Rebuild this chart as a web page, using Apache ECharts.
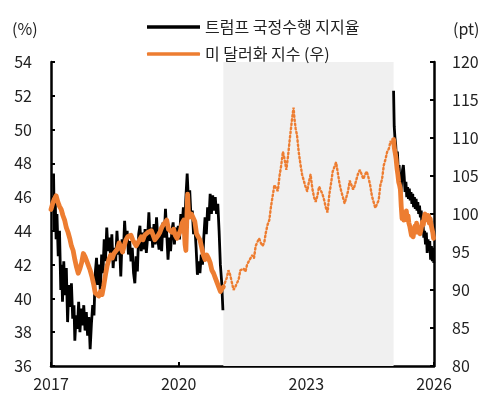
<!DOCTYPE html>
<html><head><meta charset="utf-8">
<script src="https://cdn.jsdelivr.net/npm/echarts@6/dist/echarts.min.js"></script>
<style>html,body{margin:0;padding:0;background:#fff}#c{width:492px;height:402px}</style>
</head><body><div id="c"></div>
<script>
// Trump approval (%), first term
const approvalT1 = [
[2017.06,47.4],[2017.08,44.0],[2017.10,45.8],[2017.12,43.5],[2017.14,45.0],[2017.17,42.5],[2017.20,44.0],[2017.23,40.5],[2017.25,42.0],[2017.27,39.8],
[2017.30,42.2],[2017.33,40.2],[2017.36,41.8],[2017.39,38.6],[2017.42,40.8],[2017.45,39.5],[2017.48,40.9],[2017.51,38.8],[2017.54,39.6],[2017.56,37.5],
[2017.59,39.0],[2017.62,38.2],[2017.65,39.8],[2017.68,38.0],[2017.71,39.4],[2017.74,38.4],[2017.77,39.6],[2017.80,38.1],[2017.83,39.2],[2017.86,37.8],
[2017.89,38.9],[2017.92,37.0],[2017.95,38.5],[2017.98,39.6],[2018.01,39.0],[2018.04,41.5],[2018.07,42.4],[2018.10,40.8],[2018.13,42.0],[2018.16,40.4],
[2018.19,42.6],[2018.22,41.5],[2018.25,43.5],[2018.28,42.2],[2018.31,44.2],[2018.34,42.8],[2018.37,43.6],[2018.40,42.5],[2018.43,43.8],[2018.46,41.8],
[2018.49,43.0],[2018.52,42.2],[2018.55,44.0],[2018.58,42.6],[2018.61,43.2],[2018.64,41.3],[2018.67,43.5],[2018.70,42.7],[2018.73,44.6],[2018.76,43.2],
[2018.79,44.0],[2018.82,42.6],[2018.85,43.4],[2018.88,42.2],[2018.91,43.0],[2018.94,41.5],[2018.97,40.9],[2019.00,42.5],[2019.03,41.6],[2019.06,43.8],
[2019.09,44.3],[2019.12,42.8],[2019.15,43.9],[2019.18,42.9],[2019.21,44.1],[2019.24,42.7],[2019.27,43.6],[2019.30,45.1],[2019.33,43.4],[2019.36,44.2],
[2019.39,43.0],[2019.42,44.4],[2019.45,43.2],[2019.48,44.8],[2019.51,43.5],[2019.54,42.9],[2019.57,44.0],[2019.60,42.8],[2019.63,44.5],[2019.66,43.6],
[2019.69,45.3],[2019.72,43.8],[2019.75,42.3],[2019.78,43.6],[2019.81,42.8],[2019.84,44.0],[2019.87,44.5],[2019.90,43.2],[2019.93,44.2],[2019.96,43.6],
[2019.99,44.3],[2020.02,43.5],[2020.05,45.0],[2020.08,44.2],[2020.11,45.4],[2020.14,44.4],[2020.17,46.0],[2020.20,47.4],[2020.23,45.8],[2020.26,46.4],
[2020.29,44.8],[2020.32,45.2],[2020.35,43.8],[2020.38,44.3],[2020.41,43.0],[2020.44,41.4],[2020.47,42.2],[2020.50,41.5],[2020.53,42.6],[2020.56,42.0],
[2020.59,43.6],[2020.62,44.8],[2020.65,43.8],[2020.68,45.4],[2020.71,44.6],[2020.74,46.2],[2020.77,45.0],[2020.80,46.1],[2020.83,45.2],[2020.86,46.0],
[2020.89,45.0],[2020.92,45.6],[2020.95,44.0],[2020.98,42.0],[2021.01,41.0],[2021.04,39.3]
];
// Trump approval (%), second term
const approvalT2 = [
[2025.05,52.3],[2025.065,50.2],[2025.08,49.6],[2025.10,49.1],[2025.12,48.2],[2025.14,48.7],[2025.16,47.6],[2025.18,47.9],[2025.20,46.8],[2025.22,46.1],
[2025.24,47.0],[2025.26,47.6],[2025.28,47.9],[2025.30,47.2],[2025.32,46.3],[2025.34,46.9],[2025.36,46.0],[2025.38,46.6],[2025.40,45.9],[2025.42,46.5],
[2025.44,45.8],[2025.46,46.3],[2025.48,45.6],[2025.50,46.2],[2025.52,45.4],[2025.54,46.0],[2025.56,45.3],[2025.58,45.9],[2025.60,45.2],[2025.62,45.7],
[2025.64,45.0],[2025.66,45.5],[2025.68,44.8],[2025.70,45.2],[2025.72,44.1],[2025.74,44.5],[2025.76,43.6],[2025.78,44.0],[2025.80,43.2],[2025.82,43.9],
[2025.84,42.7],[2025.86,43.5],[2025.88,42.9],[2025.90,43.4],[2025.92,42.3],[2025.94,43.1],[2025.96,42.2],[2025.98,43.0],[2025.995,42.1]
];
// US dollar index (pt), first Trump term
const dollarT1 = [
[2017.00,100.6],[2017.04,101.4],[2017.08,102.0],[2017.12,102.4],[2017.16,101.6],[2017.20,101.0],[2017.24,100.6],[2017.28,99.8],[2017.32,99.2],[2017.36,98.2],
[2017.40,97.6],[2017.44,96.8],[2017.48,95.8],[2017.52,95.2],[2017.56,94.0],[2017.60,93.0],[2017.64,92.2],[2017.68,92.8],[2017.72,93.6],[2017.76,94.8],
[2017.80,94.4],[2017.84,93.8],[2017.88,93.2],[2017.92,92.6],[2017.96,91.8],[2018.00,90.8],[2018.04,89.6],[2018.08,89.4],[2018.12,89.2],[2018.16,89.8],
[2018.20,89.4],[2018.24,90.6],[2018.28,92.0],[2018.32,93.2],[2018.36,94.0],[2018.40,94.6],[2018.44,94.2],[2018.48,94.8],[2018.52,95.0],[2018.56,95.4],
[2018.60,96.2],[2018.64,95.6],[2018.68,95.0],[2018.72,95.8],[2018.76,96.6],[2018.80,97.0],[2018.84,96.8],[2018.88,97.2],[2018.92,96.6],[2018.96,96.2],
[2019.00,95.8],[2019.04,96.2],[2019.08,96.6],[2019.12,97.0],[2019.16,96.6],[2019.20,97.2],[2019.24,97.0],[2019.28,97.6],[2019.32,97.4],[2019.36,97.8],
[2019.40,97.2],[2019.44,96.6],[2019.48,96.4],[2019.52,97.2],[2019.56,97.6],[2019.60,98.2],[2019.64,98.6],[2019.68,98.8],[2019.72,99.2],[2019.76,98.0],
[2019.80,97.8],[2019.84,97.6],[2019.88,98.0],[2019.92,97.2],[2019.96,96.8],[2020.00,97.0],[2020.04,97.8],[2020.08,98.8],[2020.12,99.2],[2020.15,96.0],
[2020.17,95.2],[2020.19,99.0],[2020.21,102.6],[2020.23,100.2],[2020.26,99.6],[2020.30,100.0],[2020.34,99.8],[2020.38,99.0],[2020.42,97.4],[2020.46,97.0],
[2020.50,96.6],[2020.54,95.6],[2020.58,94.6],[2020.62,94.0],[2020.66,94.6],[2020.70,94.2],[2020.74,93.6],[2020.78,92.6],[2020.82,92.2],[2020.86,91.6],
[2020.90,91.0],[2020.94,90.4],[2020.98,89.8],[2021.02,90.2],[2021.05,90.4]
];
// US dollar index (pt), Biden administration
const dollarBiden = [
[2021.05,90.4],[2021.09,91.0],[2021.13,91.6],[2021.17,92.6],[2021.21,92.0],[2021.25,91.0],[2021.29,90.0],[2021.33,90.4],[2021.37,90.2],[2021.41,91.4],
[2021.45,92.6],[2021.49,92.4],[2021.53,92.8],[2021.57,92.4],[2021.61,93.4],[2021.65,93.6],[2021.69,94.2],[2021.73,94.6],[2021.77,94.2],[2021.81,95.8],
[2021.85,96.0],[2021.89,96.8],[2021.93,96.2],[2021.97,95.8],[2022.01,96.2],[2022.05,97.6],[2022.09,98.6],[2022.13,99.2],[2022.17,101.0],[2022.21,102.4],
[2022.25,103.8],[2022.29,103.6],[2022.33,103.0],[2022.37,105.0],[2022.41,106.4],[2022.45,108.2],[2022.49,107.2],[2022.53,105.8],[2022.57,107.6],[2022.61,109.8],
[2022.65,111.8],[2022.68,113.2],[2022.70,114.0],[2022.72,112.6],[2022.75,111.2],[2022.78,110.4],[2022.82,108.2],[2022.86,106.6],[2022.90,105.2],[2022.94,104.4],
[2022.98,103.6],[2023.02,103.0],[2023.06,104.2],[2023.10,105.2],[2023.14,103.4],[2023.18,102.2],[2023.22,101.6],[2023.26,102.4],[2023.30,103.6],[2023.34,103.8],
[2023.38,102.6],[2023.42,101.8],[2023.46,100.8],[2023.50,100.2],[2023.54,102.6],[2023.58,104.0],[2023.62,105.6],[2023.66,106.2],[2023.70,106.8],[2023.74,105.4],
[2023.78,104.0],[2023.82,103.0],[2023.86,102.2],[2023.90,101.4],[2023.94,101.6],[2023.98,103.0],[2024.02,104.4],[2024.06,103.8],[2024.10,103.2],[2024.14,103.8],
[2024.18,104.6],[2024.22,105.4],[2024.26,105.8],[2024.30,105.2],[2024.34,104.6],[2024.38,105.2],[2024.42,105.6],[2024.46,104.8],[2024.50,103.8],[2024.54,102.4],
[2024.58,101.6],[2024.62,100.8],[2024.66,100.6],[2024.70,101.8],[2024.74,103.8],[2024.78,104.6],[2024.82,106.4],[2024.86,107.2],[2024.90,108.2],[2024.94,108.6],
[2024.98,109.6],[2025.02,109.2],[2025.05,109.8]
];
// US dollar index (pt), second Trump term
const dollarT2 = [
[2025.05,109.8],[2025.07,108.6],[2025.09,108.0],[2025.11,107.2],[2025.13,106.0],[2025.15,105.2],[2025.17,104.2],[2025.19,103.8],[2025.21,103.2],[2025.23,101.0],
[2025.25,99.4],[2025.27,99.8],[2025.29,99.2],[2025.31,100.2],[2025.33,99.6],[2025.35,100.4],[2025.37,99.2],[2025.39,99.8],[2025.41,98.8],[2025.43,98.4],
[2025.45,97.8],[2025.47,97.2],[2025.49,97.6],[2025.51,97.0],[2025.53,97.8],[2025.55,98.4],[2025.57,97.6],[2025.59,98.8],[2025.61,98.0],[2025.63,97.6],
[2025.65,98.2],[2025.67,97.4],[2025.69,97.8],[2025.71,98.4],[2025.73,99.0],[2025.75,98.6],[2025.77,99.6],[2025.79,100.0],[2025.81,99.4],[2025.83,99.8],
[2025.85,99.2],[2025.87,99.8],[2025.89,98.8],[2025.91,99.4],[2025.93,98.6],[2025.95,98.8],[2025.97,97.6],[2025.99,96.8]
];
const xTicks = [2017, 2020, 2023, 2026];
const bidenPeriod = [2021.05, 2025.05];
const names = ['트럼프 국정수행 지지율', '미 달러화 지수 (우)'];

const FONT = '"Noto Sans CJK KR", "Noto Sans", sans-serif';
const chart = echarts.init(document.getElementById('c'), null, {renderer: 'canvas'});
const axisCol = '#000';
const labelCol = '#222';
const orange = '#ED7D31';
chart.setOption({
  animation: false,
  textStyle: {fontFamily: FONT},
  grid: {left: 51, right: 58, top: 62, bottom: 36, containLabel: false},
  legend: {
    orient: 'vertical', left: 142, top: 14, itemWidth: 53, itemHeight: 3.5, itemGap: 11,
    textStyle: {fontSize: 16, color: labelCol, fontFamily: FONT, lineHeight: 14},
    data: [
      {name: names[0], icon: 'rect', itemStyle: {color: '#000'}},
      {name: names[1], icon: 'roundRect', itemStyle: {color: orange}}
    ]
  },
  xAxis: {
    type: 'value', min: xTicks[0], max: xTicks[xTicks.length - 1], interval: 3,
    axisLine: {lineStyle: {color: axisCol, width: 2.5}},
    axisTick: {inside: true, length: 4, lineStyle: {color: axisCol, width: 2}},
    axisLabel: {fontSize: 16, color: labelCol, margin: 10, formatter: v => String(v)},
    splitLine: {show: false}
  },
  yAxis: [
    {type: 'value', min: 36, max: 54, interval: 2, position: 'left',
     axisLine: {show: true, lineStyle: {color: axisCol, width: 2.5}},
     axisTick: {show: true, inside: true, length: 4, lineStyle: {color: axisCol, width: 2}},
     axisLabel: {fontSize: 16, color: labelCol, margin: 19},
     splitLine: {show: false}},
    {type: 'value', min: 80, max: 120, interval: 5, position: 'right',
     axisLine: {show: true, lineStyle: {color: axisCol, width: 2.5}},
     axisTick: {show: true, inside: true, length: 4, lineStyle: {color: axisCol, width: 2}},
     axisLabel: {fontSize: 16, color: labelCol, margin: 18},
     splitLine: {show: false}}
  ],
  graphic: [
    {type: 'text', left: 12, top: 21, style: {text: '(%)', fontSize: 16, fill: labelCol, fontFamily: FONT}},
    {type: 'text', left: 453, top: 21, style: {text: '(pt)', fontSize: 16, fill: labelCol, fontFamily: FONT}},
    {type: 'text', left: 267, top: 257, style: {text: '바이든 행정부', fontSize: 13, fill: '#333', fontFamily: FONT}}
  ],
  series: [
    {name: names[0], type: 'line', yAxisIndex: 0, symbol: 'none', z: 3,
     lineStyle: {color: '#000', width: 2.8}, itemStyle: {color: '#000'},
     data: approvalT1.concat([[2023, null]], approvalT2)},
    {name: names[1], type: 'line', yAxisIndex: 1, symbol: 'none', z: 4,
     lineStyle: {color: orange, width: 4.8, cap: 'round', join: 'round'}, itemStyle: {color: orange},
     data: dollarT1.concat([[2023, null]], dollarT2)},
    {name: 'biden', type: 'line', yAxisIndex: 1, symbol: 'none', z: 2,
     lineStyle: {color: orange, width: 2.4, type: [1.6, 2.6], cap: 'round'},
     data: dollarBiden,
     markArea: {silent: true, itemStyle: {color: '#f0f0f0'},
       data: [[{xAxis: bidenPeriod[0]}, {xAxis: bidenPeriod[1]}]]}}
  ]
});
</script></body></html>
